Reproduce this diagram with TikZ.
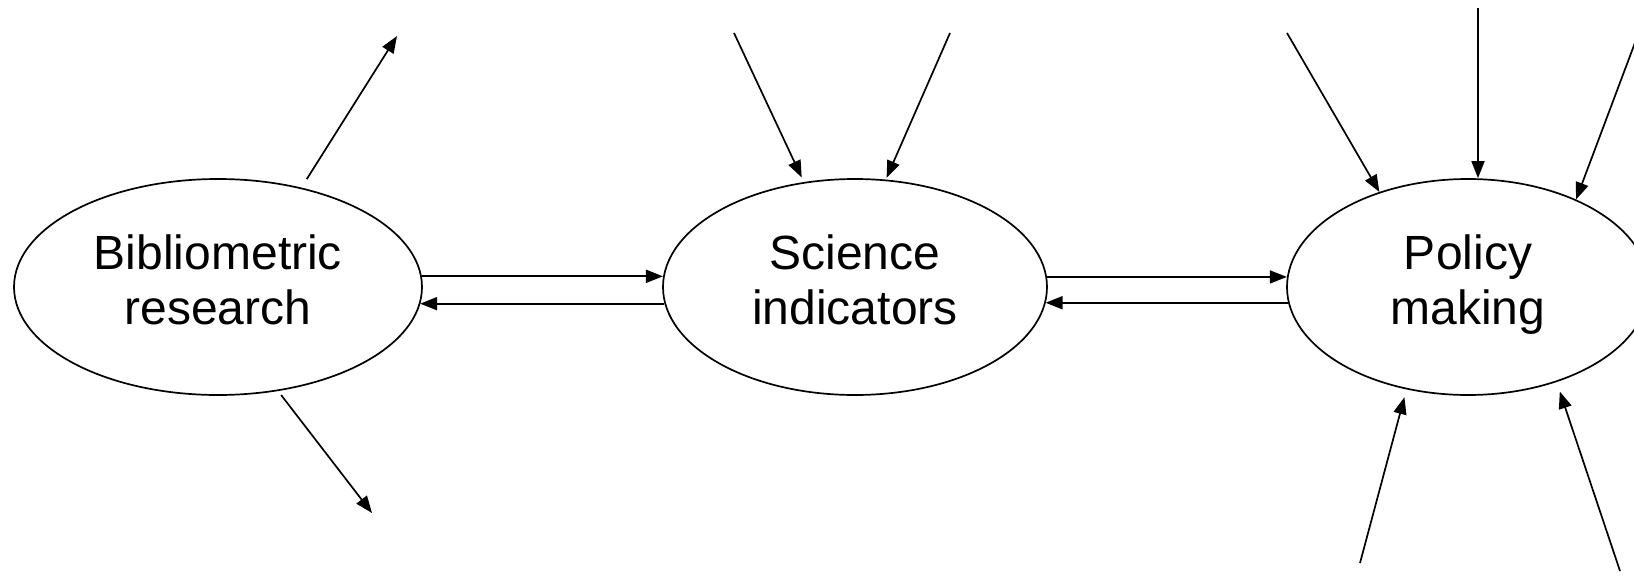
\documentclass[tikz,border=0pt]{standalone}
\usepackage{fontspec}
\setmainfont{Liberation Sans}
\usetikzlibrary{arrows.meta,shapes.geometric}
\begin{document}
\begin{tikzpicture}[x=1pt,y=-1pt,
  bubble/.style={ellipse,draw,line width=1.7pt,inner sep=0pt,minimum height=216pt,
    align=center,font=\fontsize{48}{55}\selectfont,text height=90pt,text depth=16pt},
  arr/.style={line width=1.7pt,-{Triangle[length=17pt,width=13pt]}}]
\useasboundingbox (0,0) rectangle (1634,587);
\clip (0,0) rectangle (1634,587);
\node[bubble,minimum width=408pt] (bib) at (218,287) {Bibliometric\\research};
\node[bubble,minimum width=384pt] (sci) at (855,287) {Science\\indicators};
\node[bubble,minimum width=362pt] (pol) at (1468,287) {Policy\\making};
% free ends
\coordinate (b1) at (397,36);
\coordinate (b2) at (372,513);
\coordinate (s1) at (734,33);
\coordinate (s2) at (950,33);
\coordinate (p1) at (1287,33);
\coordinate (p2) at (1478,8);
\coordinate (p3) at (1636,40);
\coordinate (p4) at (1360,563);
\coordinate (p5) at (1620,571);
% outgoing from bibliometric research
\draw[arr,shorten <=10pt] (bib.50) -- (b1);
\draw[arr,shorten <=5pt] (bib.-60) -- (b2);
% into science indicators
\draw[arr,shorten >=5pt] (s1) -- (sci.116);
\draw[arr,shorten >=2pt] (s2) -- (sci.74);
% into policy making
\draw[arr] (p1) -- (pol.133);
\draw[arr] (p2) -- (p2 |- pol.north);
\draw[arr] (p3) -- (pol.39);
\draw[arr,shorten >=8pt] (p4) -- (pol.239);
\draw[arr,shorten >=10pt] (p5) -- (pol.-47);
% horizontal pairs
\draw[arr] (bib.3) -- (bib.3 -| sci.177);
\draw[arr] (sci.185) -- (sci.185 -| bib.-5);
\draw[arr] (sci.3) -- (sci.3 -| pol.177);
\draw[arr] (pol.185) -- (pol.185 -| sci.-5);
\end{tikzpicture}
\end{document}
